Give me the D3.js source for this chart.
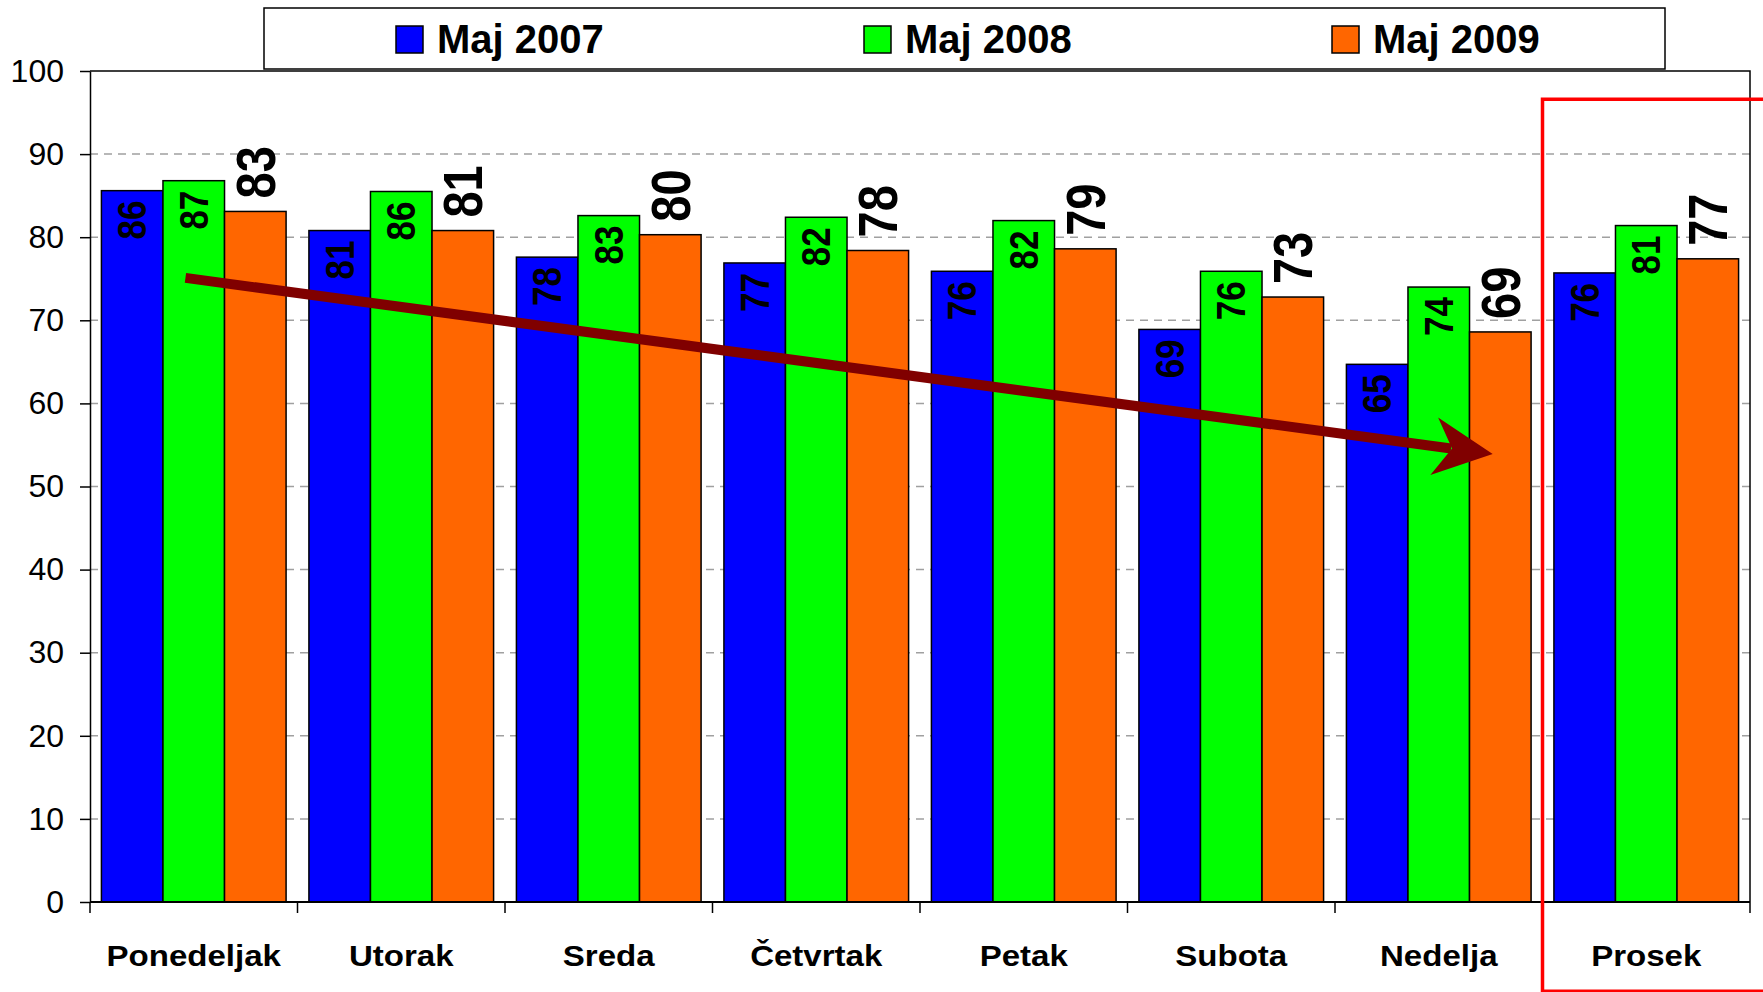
<!DOCTYPE html>
<html>
<head>
<meta charset="utf-8">
<script src="https://cdn.jsdelivr.net/npm/d3@7/dist/d3.min.js"></script>
<style>
body { margin: 0; background: #fff; }
text { font-family: "Liberation Sans", Arial, sans-serif; }
</style>
</head>
<body>
<svg width="1763" height="992"></svg>
<script>
var days = ["Ponedeljak", "Utorak", "Sreda", "Četvrtak", "Petak", "Subota", "Nedelja", "Prosek"];
var seriesNames = ["Maj 2007", "Maj 2008", "Maj 2009"];
var maj2007 = [85.6, 80.8, 77.6, 76.9, 75.9, 68.9, 64.7, 75.7];
var maj2008 = [86.8, 85.5, 82.6, 82.4, 82.0, 75.9, 74.0, 81.4];
var maj2009 = [83.1, 80.8, 80.3, 78.4, 78.6, 72.8, 68.6, 77.4];
var yTicks = [0, 10, 20, 30, 40, 50, 60, 70, 80, 90, 100];
var colors = ["#0000ff", "#00ff00", "#ff6600"];
// trend arrow: [category, fraction of the category slot, value]
var trendStart = ["Ponedeljak", 0.46, 75.1];
var trendEnd = ["Nedelja", 0.76, 53.9];

var svg = d3.select("svg"),
	width = +svg.attr("width"),
	height = +svg.attr("height"),
	plotL = 90, plotR = 1750, plotT = 71, plotB = 902;

svg.append("rect").attr("width", width).attr("height", height).attr("fill", "#fff");

var values = [maj2007, maj2008, maj2009];

var x0 = d3.scaleBand().domain(days).range([plotL, plotR]).paddingInner(0.11).paddingOuter(0.055);
var x1 = d3.scaleBand().domain(seriesNames).range([0, x0.bandwidth()]);
var y = d3.scaleLinear().domain([0, 100]).range([plotB, plotT]);

// dashed grid
svg.append("g")
	.selectAll("line")
	.data(yTicks.filter(function (d) { return d > 0 && d < 100; }))
	.enter().append("line")
	.attr("x1", plotL).attr("x2", plotR)
	.attr("y1", function (d) { return y(d); })
	.attr("y2", function (d) { return y(d); })
	.attr("stroke", "#a0a0a0")
	.attr("stroke-width", 1.5)
	.attr("stroke-dasharray", "8,6");

// bars
var groups = svg.append("g")
	.selectAll("g")
	.data(days)
	.enter().append("g")
	.attr("transform", function (d) { return "translate(" + x0(d) + ",0)"; });

function cells(d, i) {
	return seriesNames.map(function (s, j) { return { s: s, j: j, v: values[j][i] }; });
}

groups.selectAll("rect")
	.data(cells)
	.enter().append("rect")
	.attr("x", function (d) { return x1(d.s); })
	.attr("y", function (d) { return y(d.v); })
	.attr("width", x1.bandwidth())
	.attr("height", function (d) { return y(0) - y(d.v); })
	.attr("fill", function (d) { return colors[d.j]; })
	.attr("stroke", "#000")
	.attr("stroke-width", 1.5);

// value labels (rotated)
groups.selectAll("text")
	.data(cells)
	.enter().append("text")
	.attr("transform", function (d) {
		var cx = x1(d.s) + x1.bandwidth() / 2;
		if (d.j == 2) return "translate(" + cx + "," + (y(d.v) - 13) + ") rotate(-90) scale(1,1.2)";
		return "translate(" + cx + "," + (y(d.v) + 10) + ") rotate(-90) scale(1,1.15)";
	})
	.attr("text-anchor", function (d) { return d.j == 2 ? "start" : "end"; })
	.attr("dominant-baseline", "central")
	.attr("font-weight", "bold")
	.attr("font-size", function (d) { return d.j == 2 ? 47 : 35; })
	.attr("fill", "#000")
	.text(function (d) { return Math.round(d.v); });

// plot frame (top / right)
svg.append("path")
	.attr("d", "M" + plotL + "," + plotT + "H" + plotR + "V" + plotB)
	.attr("fill", "none")
	.attr("stroke", "#000")
	.attr("stroke-width", 1.5);

// y axis
var yAxis = svg.append("g")
	.attr("transform", "translate(" + plotL + ",0)")
	.call(d3.axisLeft(y).tickValues(yTicks).tickSize(10).tickSizeOuter(0).tickPadding(16));
yAxis.selectAll("text").attr("font-size", 32).attr("font-family", "'Liberation Sans', Arial, sans-serif").attr("fill", "#000");
yAxis.selectAll("line, path").attr("stroke", "#000").attr("stroke-width", 1.5);

// x axis line and boundary ticks
svg.append("line")
	.attr("x1", plotL).attr("x2", plotR)
	.attr("y1", plotB).attr("y2", plotB)
	.attr("stroke", "#000").attr("stroke-width", 2);

svg.append("g")
	.selectAll("line")
	.data(d3.range(days.length + 1))
	.enter().append("line")
	.attr("x1", function (i) { return plotL + i * x0.step(); })
	.attr("x2", function (i) { return plotL + i * x0.step(); })
	.attr("y1", plotB).attr("y2", plotB + 11)
	.attr("stroke", "#000").attr("stroke-width", 1.5);

svg.append("g")
	.selectAll("text")
	.data(days)
	.enter().append("text")
	.attr("transform", function (d) {
		return "translate(" + (x0(d) + x0.bandwidth() / 2) + "," + 966 + ") scale(1.14,1)";
	})
	.attr("text-anchor", "middle")
	.attr("font-weight", "bold")
	.attr("font-size", 29)
	.text(function (d) { return d; });

// legend
var legend = svg.append("g");
legend.append("rect")
	.attr("x", 264).attr("y", 8)
	.attr("width", 1401).attr("height", 61)
	.attr("fill", "#fff").attr("stroke", "#000").attr("stroke-width", 1.5);

var items = legend.selectAll("g")
	.data(seriesNames)
	.enter().append("g")
	.attr("transform", function (d, i) { return "translate(" + (396 + i * 468) + ",0)"; });
items.append("rect")
	.attr("y", 26).attr("width", 27).attr("height", 27)
	.attr("fill", function (d, i) { return colors[i]; })
	.attr("stroke", "#000").attr("stroke-width", 1.5);
items.append("text")
	.attr("x", 41).attr("y", 53)
	.attr("font-weight", "bold")
	.attr("font-size", 40)
	.text(function (d) { return d; });

// trend arrow
var ax1 = plotL + days.indexOf(trendStart[0]) * x0.step() + trendStart[1] * x0.step(),
	ay1 = y(trendStart[2]),
	ax2 = plotL + days.indexOf(trendEnd[0]) * x0.step() + trendEnd[1] * x0.step(),
	ay2 = y(trendEnd[2]);
var ang = Math.atan2(ay2 - ay1, ax2 - ax1) * 180 / Math.PI;
var len = Math.sqrt((ax2 - ax1) * (ax2 - ax1) + (ay2 - ay1) * (ay2 - ay1));

var arrow = svg.append("g")
	.attr("transform", "translate(" + ax1 + "," + ay1 + ") rotate(" + ang + ")");
arrow.append("line")
	.attr("x1", 0).attr("y1", 0)
	.attr("x2", len - 42).attr("y2", 0)
	.attr("stroke", "#800000")
	.attr("stroke-width", 10);
arrow.append("path")
	.attr("d", "M" + len + ",0 L" + (len - 59) + ",-29 L" + (len - 41) + ",0 L" + (len - 59) + ",29 Z")
	.attr("fill", "#800000");

// red highlight box around the average
svg.append("rect")
	.attr("x", plotL + days.indexOf("Prosek") * x0.step())
	.attr("y", y(96.6))
	.attr("width", 260)
	.attr("height", 892)
	.attr("fill", "none")
	.attr("stroke", "#ff0000")
	.attr("stroke-width", 3.5);
</script>
</body>
</html>
